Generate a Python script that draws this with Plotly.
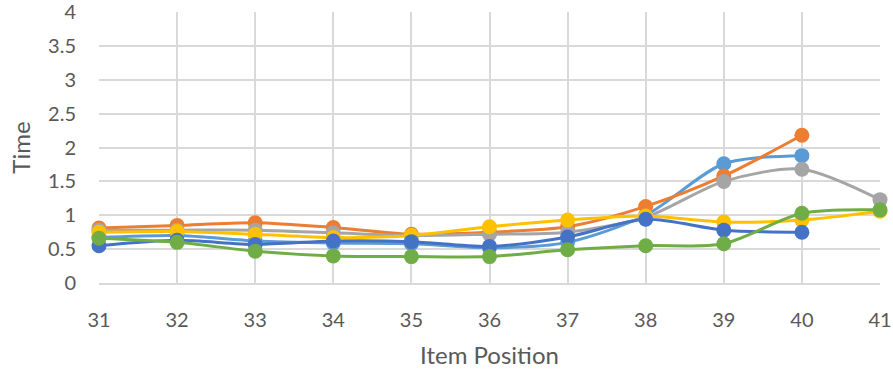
import plotly.graph_objects as go

# Item positions on the category axis
positions = [31, 32, 33, 34, 35, 36, 37, 38, 39, 40, 41]

# Response times per series (None = no value at that position)
series_1 = [0.67, 0.70, 0.62, 0.59, 0.58, 0.52, 0.60, 1.00, 1.76, 1.88, None]
series_2 = [0.81, 0.85, 0.89, 0.82, 0.72, 0.75, 0.83, 1.13, 1.58, 2.18, None]
series_3 = [0.78, 0.78, 0.78, 0.74, 0.70, 0.72, 0.75, 0.97, 1.50, 1.68, 1.23]
series_4 = [0.75, 0.76, 0.72, 0.67, 0.70, 0.83, 0.93, 0.99, 0.90, 0.93, 1.06]
series_5 = [0.55, 0.63, 0.57, 0.62, 0.61, 0.54, 0.68, 0.94, 0.78, 0.75, None]
series_6 = [0.66, 0.60, 0.47, 0.40, 0.39, 0.39, 0.49, 0.55, 0.58, 1.03, 1.08]

y_ticks = [0, 0.5, 1, 1.5, 2, 2.5, 3, 3.5, 4]
y_tick_text = ["0", "0.5", "1", "1.5", "2", "2.5", "3", "3.5", "4"]

all_series = [
    ("Series1", series_1, "#5B9BD5"),
    ("Series2", series_2, "#ED7D31"),
    ("Series3", series_3, "#A5A5A5"),
    ("Series4", series_4, "#FFC000"),
    ("Series5", series_5, "#4472C4"),
    ("Series6", series_6, "#70AD47"),
]

fig = go.Figure()
for name, values, color in all_series:
    fig.add_trace(go.Scatter(
        x=positions, y=values, name=name,
        mode="lines+markers",
        line=dict(color=color, width=3, shape="spline", smoothing=0.8),
        marker=dict(color=color, size=15),
        connectgaps=False,
        cliponaxis=False,
    ))

font_family = "Lato, 'Open Sans', sans-serif"
text_color = "#595959"
grid = "#D9D9D9"

fig.update_layout(
    width=893, height=369,
    margin=dict(l=99, r=13, t=12, b=86, autoexpand=False),
    paper_bgcolor="white", plot_bgcolor="white",
    showlegend=False,
    font=dict(family=font_family, color=text_color, size=20),
    xaxis=dict(
        range=[31, 41], tickmode="array", tickvals=positions,
        ticktext=[str(p) for p in positions],
        showgrid=True, gridcolor=grid, gridwidth=1.5,
        showline=True, linecolor=grid, linewidth=1.5,
        zeroline=False, ticks="", ticklabelstandoff=18,
        ticklabeloverflow="allow", automargin=False,
        tickfont=dict(size=20, color=text_color),
        title=dict(text="Item Position", font=dict(size=24, color=text_color), standoff=19),
    ),
    yaxis=dict(
        range=[0, 4], tickmode="array", tickvals=y_ticks, ticktext=y_tick_text,
        showgrid=True, gridcolor=grid, gridwidth=1.5,
        showline=False, zeroline=False, ticks="", ticklabelstandoff=22,
        ticklabeloverflow="allow", automargin=False,
        tickfont=dict(size=20, color=text_color),
        title=dict(text="Time", font=dict(size=24, color=text_color), standoff=10),
    ),
)

fig.write_html("out.html")
